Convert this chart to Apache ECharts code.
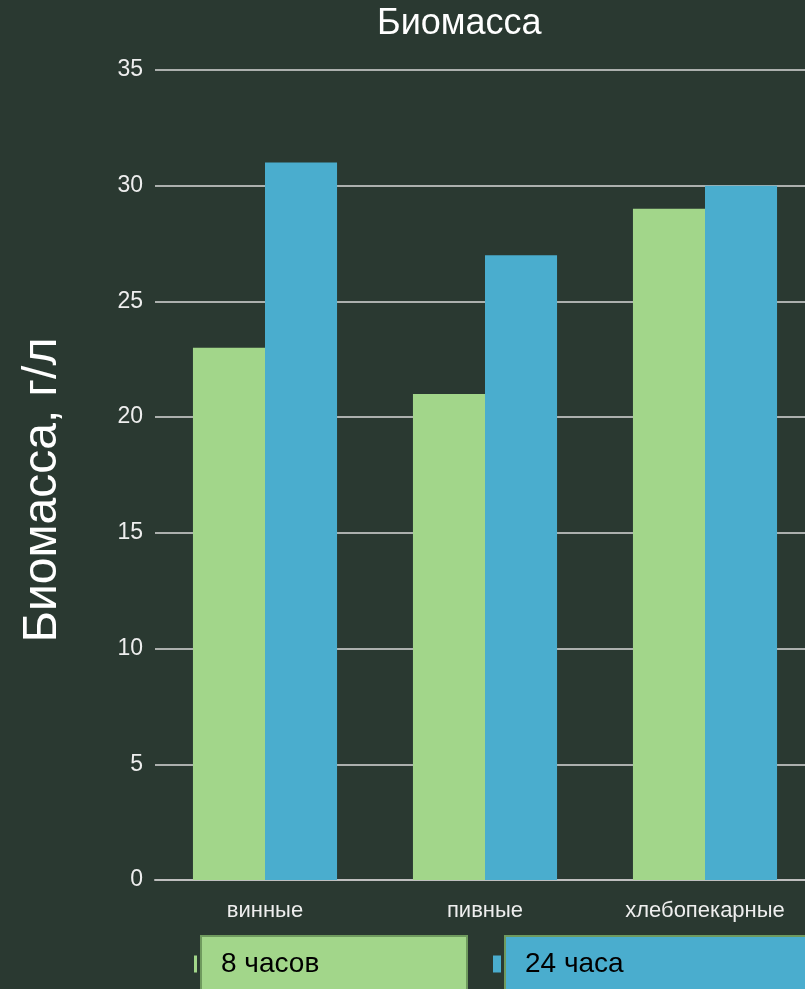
<!DOCTYPE html>
<html><head><meta charset="utf-8">
<script src="https://cdn.jsdelivr.net/npm/echarts@6/dist/echarts.min.js"></script>
<style>html,body{margin:0;padding:0;background:#2a3931;overflow:hidden;}#c{width:815px;height:989px;}</style>
</head><body><div id="c"></div>
<script>
const categories = ['винные', 'пивные', 'хлебопекарные'];
const series8h = [23, 21, 29];
const series24h = [31, 27, 30];
const seriesNames = ['8 часов', '24 часа'];
const yTicks = { min: 0, max: 35, interval: 5 };

const green = '#a2d68a', blue = '#4aadce';
const legendText = { color: '#000', fontSize: 28, lineHeight: 30, borderColor: '#6f9a5e', borderWidth: 2, padding: [12, 0, 12, 19] };
const chart = echarts.init(document.getElementById('c'));
chart.setOption({
  backgroundColor: '#2a3931',
  textStyle: { fontFamily: 'Liberation Sans, Arial, sans-serif' },
  title: { text: 'Биомасса', left: 372, top: 1, textStyle: { color: '#ffffff', fontSize: 36, fontWeight: 'normal' } },
  grid: { left: 155, right: 0, top: 70, bottom: 109, containLabel: false },
  legend: [
    { left: 189, top: 930, itemWidth: 3, itemHeight: 17, icon: 'rect',
      data: [{ name: seriesNames[0], textStyle: Object.assign({}, legendText, { backgroundColor: green, width: 245 }) }] },
    { left: 488, top: 930, itemWidth: 8, itemHeight: 17, icon: 'rect',
      data: [{ name: seriesNames[1], textStyle: Object.assign({}, legendText, { backgroundColor: blue, width: 300 }) }] }
  ],
  xAxis: {
    type: 'category', data: categories,
    axisLine: { lineStyle: { color: '#bfbfbf', width: 2 } },
    axisTick: { show: false },
    axisLabel: { color: '#eeeeee', fontSize: 22, margin: 20 }
  },
  yAxis: {
    type: 'value', min: yTicks.min, max: yTicks.max, interval: yTicks.interval,
    name: 'Биомасса, г/л', nameLocation: 'middle', nameRotate: 90, nameGap: 88,
    nameTextStyle: { color: '#ffffff', fontSize: 48, padding: [0, 30, 0, 0] },
    axisLine: { show: false }, axisTick: { show: false },
    axisLabel: { color: '#eeeeee', fontSize: 23, margin: 12 },
    splitLine: { lineStyle: { color: '#d8d8d8', width: 1.5 } }
  },
  series: [
    { name: seriesNames[0], type: 'bar', data: series8h, itemStyle: { color: green }, barGap: '0%', barCategoryGap: '34.5%' },
    { name: seriesNames[1], type: 'bar', data: series24h, itemStyle: { color: blue }, barGap: '0%', barCategoryGap: '34.5%' }
  ]
});
</script></body></html>
